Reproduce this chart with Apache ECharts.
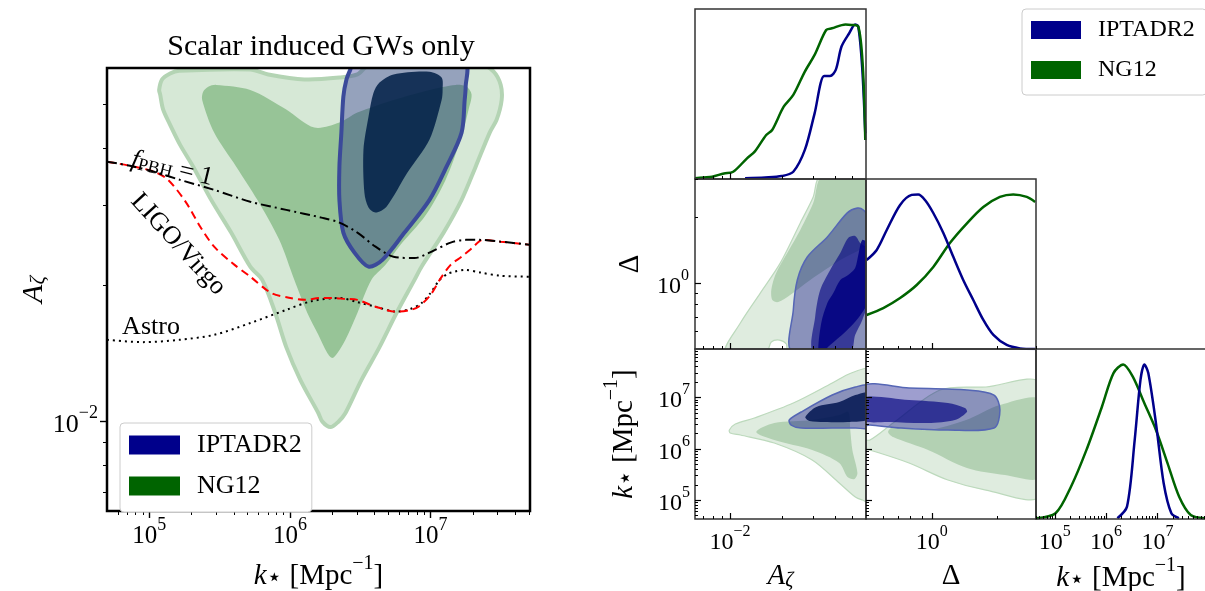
<!DOCTYPE html>
<html>
<head>
<meta charset="utf-8">
<title>Scalar induced GWs</title>
<script src="https://cdn.jsdelivr.net/npm/echarts@6.0.0/dist/echarts.min.js"></script>
<style>
html,body{margin:0;padding:0;background:#ffffff;}
#chart{width:1205px;height:591px;}
</style>
</head>
<body>
<div id="chart"></div>
<script>
// ================= DATA =================
// All positions are log10 of the physical quantity: k* [Mpc^-1], A_zeta, Delta.
const seriesNames = ['IPTADR2', 'NG12'];

// axis ranges (real values)
const kMainRange = [5e4, 5.1e7];
const aMainRange = [6.36e-3, 0.06];
const aCornerRange = [6.3e-3, 0.06];
const dCornerRange = [0.5, 3.0];
const kCornerRange = [4.3e4, 8.85e7];

// tick values (real values)
const kMajor = [1e5, 1e6, 1e7];
const kMinorMain = [6e4,7e4,8e4,9e4,2e5,3e5,4e5,5e5,6e5,7e5,8e5,9e5,2e6,3e6,4e6,5e6,6e6,7e6,8e6,9e6,2e7,3e7,4e7,5e7];
const kMinorCorner = [5e4,6e4,7e4,8e4,9e4,2e5,3e5,4e5,5e5,6e5,7e5,8e5,9e5,2e6,3e6,4e6,5e6,6e6,7e6,8e6,9e6,2e7,3e7,4e7,5e7,6e7,7e7,8e7];
const aMajor = [1e-2];
const aMinor = [7e-3,8e-3,9e-3,2e-2,3e-2,4e-2,5e-2];
const dMajor = [1];
const dMinor = [0.6,0.7,0.8,0.9,2,3];

// ---- left panel: [log10 k, log10 A] contour outlines ----
const ng12Outer = [[5.070,-1.270],[5.091,-1.247],[5.148,-1.234],[5.212,-1.228],[5.718,-1.225],[5.846,-1.236],[6.103,-1.247],[6.352,-1.243],[6.480,-1.236],[6.573,-1.214],[7.357,-1.214],[7.449,-1.230],[7.499,-1.259],[7.506,-1.292],[7.471,-1.335],[7.421,-1.364],[7.321,-1.439],[7.221,-1.512],[7.093,-1.584],[6.936,-1.659],[6.886,-1.688],[6.758,-1.761],[6.637,-1.836],[6.509,-1.908],[6.395,-1.981],[6.345,-2.000],[6.288,-2.012],[6.231,-2.000],[6.202,-1.981],[6.074,-1.908],[5.974,-1.836],[5.896,-1.761],[5.803,-1.688],[5.718,-1.659],[5.582,-1.584],[5.440,-1.512],[5.312,-1.439],[5.219,-1.391],[5.148,-1.347],[5.098,-1.313],[5.077,-1.280]];
const ng12Inner = [[5.376,-1.292],[5.383,-1.274],[5.419,-1.263],[5.476,-1.259],[5.718,-1.270],[5.974,-1.313],[6.174,-1.353],[6.352,-1.342],[6.480,-1.320],[6.737,-1.292],[6.993,-1.270],[7.178,-1.259],[7.257,-1.263],[7.292,-1.280],[7.271,-1.313],[7.214,-1.379],[7.107,-1.468],[6.965,-1.546],[6.787,-1.611],[6.680,-1.655],[6.580,-1.688],[6.480,-1.761],[6.395,-1.820],[6.338,-1.849],[6.302,-1.860],[6.266,-1.849],[6.202,-1.809],[6.124,-1.761],[6.031,-1.688],[5.924,-1.600],[5.768,-1.512],[5.618,-1.439],[5.461,-1.364]];
const iptaOuter = [[6.445,-1.212],[7.243,-1.212],[7.250,-1.263],[7.243,-1.292],[7.221,-1.364],[7.114,-1.439],[6.993,-1.512],[6.815,-1.584],[6.658,-1.644],[6.559,-1.659],[6.459,-1.628],[6.380,-1.584],[6.352,-1.512],[6.352,-1.439],[6.366,-1.364],[6.380,-1.285],[6.402,-1.247],[6.430,-1.225]];
const iptaInner = [[6.594,-1.277],[6.637,-1.254],[6.737,-1.236],[6.993,-1.230],[7.079,-1.243],[7.086,-1.270],[7.079,-1.292],[6.993,-1.379],[6.836,-1.452],[6.687,-1.527],[6.609,-1.540],[6.559,-1.529],[6.530,-1.497],[6.523,-1.402],[6.559,-1.329]];

// ---- left panel: bounds [log10 k, log10 A] ----
const ligoVirgo = [[4.699,-1.428],[4.863,-1.437],[5.034,-1.450],[5.134,-1.468],[5.262,-1.518],[5.362,-1.571],[5.461,-1.615],[5.590,-1.651],[5.718,-1.681],[5.868,-1.717],[6.003,-1.728],[6.103,-1.732],[6.217,-1.728],[6.302,-1.728],[6.395,-1.730],[6.480,-1.732],[6.609,-1.747],[6.758,-1.758],[6.858,-1.754],[6.915,-1.747],[7.000,-1.721],[7.065,-1.688],[7.143,-1.655],[7.221,-1.637],[7.299,-1.617],[7.371,-1.600],[7.499,-1.604],[7.713,-1.611]];
const fPBH = [[4.699,-1.428],[4.863,-1.437],[5.034,-1.450],[5.219,-1.468],[5.461,-1.490],[5.718,-1.516],[5.974,-1.534],[6.224,-1.551],[6.352,-1.562],[6.480,-1.584],[6.609,-1.615],[6.737,-1.637],[6.886,-1.640],[6.993,-1.628],[7.143,-1.606],[7.250,-1.600],[7.349,-1.600],[7.499,-1.604],[7.713,-1.611]];
const astro = [[4.699,-1.820],[4.956,-1.825],[5.212,-1.820],[5.461,-1.809],[5.718,-1.783],[5.974,-1.754],[6.153,-1.735],[6.352,-1.728],[6.480,-1.737],[6.609,-1.747],[6.758,-1.758],[6.858,-1.752],[6.936,-1.739],[7.000,-1.717],[7.065,-1.688],[7.122,-1.675],[7.171,-1.670],[7.243,-1.666],[7.357,-1.672],[7.499,-1.679],[7.713,-1.681]];
const annotations = [
  {text:'{i|f}{sr|PBH}{n| = 1}', pos:[5.169,-1.435], rot:-13.5},
  {text:'{n|LIGO/Virgo}', pos:[5.226,-1.604], rot:-47.5},
  {text:'{n|Astro}', pos:[5.012,-1.783], rot:0}
];

// ---- corner plot: 1D marginals [log10 value, normalised density] ----
const aIpta1D = [[-1.914,0.005],[-1.800,0.010],[-1.704,0.019],[-1.638,0.047],[-1.572,0.188],[-1.516,0.425],[-1.461,0.667],[-1.428,0.666],[-1.395,0.706],[-1.362,0.857],[-1.318,0.943],[-1.284,1.000],[-1.266,0.986],[-1.244,0.727],[-1.226,0.296]];
const aNg1D = [[-2.201,0.005],[-2.150,0.010],[-2.102,0.015],[-2.035,0.036],[-1.982,0.047],[-1.903,0.134],[-1.859,0.177],[-1.793,0.285],[-1.759,0.317],[-1.693,0.468],[-1.638,0.544],[-1.572,0.695],[-1.516,0.803],[-1.450,0.964],[-1.417,0.975],[-1.339,1.000],[-1.306,0.997],[-1.266,0.986],[-1.240,0.727],[-1.226,0.252]];
const dIpta1D = [[-0.298,0.576],[-0.252,0.641],[-0.206,0.770],[-0.145,0.932],[-0.092,0.997],[-0.062,1.000],[-0.031,0.964],[0.007,0.880],[0.053,0.751],[0.099,0.595],[0.144,0.447],[0.190,0.317],[0.236,0.188],[0.282,0.091],[0.343,0.026],[0.404,0.004],[0.473,0.000]];
const dNg1D = [[-0.298,0.220],[-0.222,0.265],[-0.145,0.330],[-0.069,0.414],[0.007,0.531],[0.083,0.686],[0.162,0.815],[0.236,0.919],[0.312,0.984],[0.373,1.000],[0.435,0.984],[0.473,0.951]];
const kIpta1D = [[6.220,0.005],[6.407,0.080],[6.557,0.511],[6.670,0.900],[6.746,1.000],[6.822,0.944],[6.972,0.619],[7.122,0.231],[7.272,0.037],[7.420,0.005]];
const kNg1D = [[4.639,0.005],[5.015,0.037],[5.315,0.209],[5.617,0.447],[5.920,0.728],[6.144,0.944],[6.333,1.000],[6.520,0.921],[6.746,0.749],[6.972,0.576],[7.198,0.360],[7.424,0.144],[7.649,0.026],[7.935,0.005]];

// ---- corner plot: 2D contours ----
// [log10 A, log10 Delta]
const adNgOuter = [[-2.027,-0.315],[-1.941,-0.182],[-1.827,-0.045],[-1.712,0.093],[-1.598,0.276],[-1.524,0.395],[-1.484,0.491],[-1.197,0.491],[-1.197,-0.315],[-1.667,-0.315],[-1.678,-0.278],[-1.718,-0.260],[-1.764,-0.269],[-1.793,-0.315]];
const adNgInner = [[-1.758,-0.077],[-1.764,-0.031],[-1.741,0.038],[-1.696,0.106],[-1.598,0.244],[-1.524,0.367],[-1.472,0.491],[-1.197,0.491],[-1.197,0.198],[-1.369,0.106],[-1.541,0.015],[-1.656,-0.054],[-1.724,-0.086]];
const adIptaOuter = [[-1.644,-0.315],[-1.638,-0.123],[-1.615,0.015],[-1.558,0.120],[-1.443,0.212],[-1.329,0.322],[-1.271,0.344],[-1.237,0.335],[-1.209,0.299],[-1.209,-0.315]];
const adIptaMid = [[-1.524,-0.315],[-1.513,-0.155],[-1.484,-0.031],[-1.427,0.061],[-1.369,0.138],[-1.324,0.207],[-1.284,0.216],[-1.255,0.184],[-1.209,0.152],[-1.209,-0.077],[-1.243,-0.168],[-1.284,-0.237],[-1.312,-0.315]];
const adIptaInner = [[-1.495,-0.315],[-1.478,-0.182],[-1.443,-0.091],[-1.409,-0.045],[-1.369,0.015],[-1.324,0.038],[-1.284,0.070],[-1.266,0.129],[-1.243,0.198],[-1.209,0.175],[-1.209,-0.077],[-1.266,-0.159],[-1.341,-0.223],[-1.427,-0.283],[-1.471,-0.315]];
// [log10 A, log10 k]
const akNgOuter = [[-2.004,6.368],[-1.970,6.485],[-1.861,6.602],[-1.638,6.894],[-1.415,7.284],[-1.306,7.479],[-1.197,7.537],[-1.197,4.964],[-1.243,5.003],[-1.283,5.062],[-1.375,5.335],[-1.530,5.783],[-1.747,6.114],[-1.941,6.270],[-1.999,6.309]];
const akNgInner = [[-1.850,6.329],[-1.747,6.504],[-1.530,6.563],[-1.375,6.660],[-1.323,6.719],[-1.312,6.368],[-1.300,5.978],[-1.271,5.530],[-1.288,5.413],[-1.328,5.452],[-1.375,5.725],[-1.530,5.978],[-1.747,6.173]];
const akIptaOuter = [[-1.661,6.563],[-1.593,6.719],[-1.415,7.050],[-1.283,7.206],[-1.197,7.226],[-1.197,6.426],[-1.283,6.407],[-1.415,6.407],[-1.593,6.407],[-1.650,6.465]];
const akIptaInner = [[-1.569,6.621],[-1.506,6.816],[-1.375,6.914],[-1.283,7.050],[-1.197,7.089],[-1.197,6.602],[-1.328,6.524],[-1.460,6.524],[-1.546,6.543]];
// [log10 Delta, log10 k]
const dkNgOuter = [[-0.319,6.173],[-0.283,6.173],[-0.177,6.504],[0.038,7.148],[0.248,7.206],[0.495,7.284],[0.495,5.081],[0.248,5.198],[0.074,5.393],[-0.104,5.725],[-0.283,5.978],[-0.319,6.017]];
const dkNgInner = [[-0.177,6.426],[-0.017,6.368],[0.157,6.563],[0.312,6.855],[0.495,6.953],[0.495,5.452],[0.335,5.491],[0.161,5.627],[-0.017,5.978],[-0.177,6.231],[-0.200,6.329]];
const dkIptaOuter = [[-0.319,7.226],[-0.104,7.187],[0.161,7.148],[0.285,7.050],[0.312,6.758],[0.285,6.407],[0.074,6.368],[-0.141,6.407],[-0.283,6.465],[-0.319,6.465]];
const dkIptaInner = [[-0.319,6.992],[-0.104,6.953],[0.074,6.894],[0.152,6.797],[0.161,6.719],[0.106,6.563],[-0.017,6.504],[-0.191,6.524],[-0.319,6.563]];

// ================= CHART =================
const FONT = "'Liberation Serif','DejaVu Serif',serif";
const L = Math.log10;
const C_IPTA = '#00008b', C_NG = '#006400';

function powLabel(v){ const e = Math.round(v); return '{b|10}{s|' + (e < 0 ? '\u2212' + (-e) : e) + '}'; }
function powRich(b, s){
  return {
    b:{fontFamily:FONT, fontSize:b, lineHeight:Math.round(b*1.3), verticalAlign:'bottom', color:'#000'},
    s:{fontFamily:FONT, fontSize:s, lineHeight:s, verticalAlign:'top', color:'#000'}
  };
}
function nameRich(size){
  const sub = Math.round(size*0.7);
  return {
    i:{fontFamily:FONT, fontStyle:'italic', fontSize:size, lineHeight:size+8, verticalAlign:'bottom', color:'#000'},
    n:{fontFamily:FONT, fontSize:size, lineHeight:size+8, verticalAlign:'bottom', color:'#000'},
    st:{fontFamily:"'DejaVu Sans',sans-serif", fontSize:Math.round(size*0.85), lineHeight:Math.round(size*0.75), verticalAlign:'bottom', color:'#000'},
    sb:{fontFamily:FONT, fontStyle:'italic', fontSize:sub, lineHeight:Math.round(sub*0.8), verticalAlign:'bottom', color:'#000'},
    sr:{fontFamily:FONT, fontSize:sub, lineHeight:Math.round(sub*0.8), verticalAlign:'bottom', color:'#000'},
    sp:{fontFamily:FONT, fontSize:Math.round(size*0.68), lineHeight:Math.round(size*0.68), verticalAlign:'top', color:'#000'}
  };
}
const K_NAME = '{i|k}{st|\u22c6}{n| [Mpc}{sp|\u22121}{n|]}';
const A_NAME = '{i|A}{sb|\u03b6}';
const D_NAME = '{n|\u0394}';

const xAxes = [], yAxes = [];
function addLogAxis(list, o){
  const base = {type:'value', gridIndex:o.grid, min:L(o.range[0]), max:L(o.range[1]), position:o.pos, z:10,
    axisLine:{show:false, onZero:false}, splitLine:{show:false}};
  const idx = list.length;
  list.push(Object.assign({}, base, {
    axisTick:{show:true, inside:o.inside, length:o.majLen, customValues:o.major.map(L), lineStyle:{color:'#000', width:o.tw||1.2}},
    axisLabel:{show:!!o.labels, customValues:o.major.map(L), formatter:powLabel, margin:o.margin||6, rich:powRich(o.fs||22, o.ss||15)},
    name:o.name||'', nameLocation:'middle', nameGap:o.nameGap||40,
    nameTextStyle:{rich:nameRich(o.nameSize||28), fontFamily:FONT, color:'#000'}
  }));
  list.push(Object.assign({}, base, {
    axisTick:{show:true, inside:o.inside, length:o.minLen, customValues:o.minor.map(L), lineStyle:{color:'#000', width:1}},
    axisLabel:{show:false}
  }));
  return idx;
}
function addDensAxis(list, grid){
  const idx = list.length;
  list.push({type:'value', gridIndex:grid, min:0, max:1.1, show:false, axisLine:{onZero:false}});
  return idx;
}

// grids
function gridBox(left, top, width, height, color, bw){
  return {left:left, top:top, width:width, height:height, show:true, borderColor:color, borderWidth:bw, z:10,
    backgroundColor:'transparent', containLabel:false, outerBoundsMode:'none'};
}
const grids = [
  gridBox(107, 68, 423, 443, '#000', 2.5),
  gridBox(695, 9, 171, 170, '#333', 1.5),
  gridBox(695, 179, 171, 170, '#333', 1.5),
  gridBox(866, 179, 170, 170, '#333', 1.5),
  gridBox(695, 349, 171, 170, '#333', 1.5),
  gridBox(866, 349, 170, 170, '#333', 1.5),
  gridBox(1036, 349, 170, 170, '#333', 1.5)
];

// main panel axes
const xMain = addLogAxis(xAxes, {grid:0, range:kMainRange, pos:'bottom', major:kMajor, minor:kMinorMain, labels:true, inside:false, majLen:7, minLen:4, fs:25, ss:18, margin:5, name:K_NAME, nameGap:42, nameSize:29, tw:1.4});
const yMain = addLogAxis(yAxes, {grid:0, range:aMainRange, pos:'left', major:aMajor, minor:aMinor, labels:true, inside:false, majLen:7, minLen:4, fs:26, ss:18, margin:9, name:A_NAME, nameGap:56, nameSize:30, tw:1.4});
// corner axes
const xA1 = addLogAxis(xAxes, {grid:1, range:aCornerRange, pos:'bottom', major:aMajor, minor:aMinor, labels:false, inside:true, majLen:6, minLen:3});
const yA1 = addDensAxis(yAxes, 1);
const xAD = addLogAxis(xAxes, {grid:2, range:aCornerRange, pos:'bottom', major:aMajor, minor:aMinor, labels:false, inside:true, majLen:6, minLen:3});
const yAD = addLogAxis(yAxes, {grid:2, range:dCornerRange, pos:'left', major:dMajor, minor:dMinor, labels:true, inside:true, majLen:6, minLen:3, fs:24, ss:16, margin:6, name:D_NAME, nameGap:50, nameSize:29});
const xD1 = addLogAxis(xAxes, {grid:3, range:dCornerRange, pos:'bottom', major:dMajor, minor:dMinor, labels:false, inside:true, majLen:6, minLen:3});
const yD1 = addDensAxis(yAxes, 3);
const xAK = addLogAxis(xAxes, {grid:4, range:aCornerRange, pos:'bottom', major:aMajor, minor:aMinor, labels:true, inside:true, majLen:6, minLen:3, fs:24, ss:16, margin:5, name:A_NAME, nameGap:35, nameSize:29});
const yAK = addLogAxis(yAxes, {grid:4, range:kCornerRange, pos:'left', major:kMajor, minor:kMinorCorner, labels:true, inside:true, majLen:6, minLen:3, fs:24, ss:16, margin:5, name:K_NAME, nameGap:56, nameSize:29});
const xDK = addLogAxis(xAxes, {grid:5, range:dCornerRange, pos:'bottom', major:dMajor, minor:dMinor, labels:true, inside:true, majLen:6, minLen:3, fs:24, ss:16, margin:5, name:D_NAME, nameGap:35, nameSize:29});
const yDK = addLogAxis(yAxes, {grid:5, range:kCornerRange, pos:'left', major:kMajor, minor:kMinorCorner, labels:false, inside:true, majLen:6, minLen:3});
const xK1 = addLogAxis(xAxes, {grid:6, range:kCornerRange, pos:'bottom', major:kMajor, minor:kMinorCorner, labels:true, inside:true, majLen:6, minLen:3, fs:24, ss:16, margin:5, name:K_NAME, nameGap:35, nameSize:29});
const yK1 = addDensAxis(yAxes, 6);

function poly(name, xi, yi, pts, fill, stroke, lw, z){
  return {
    type:'custom', name:name, xAxisIndex:xi, yAxisIndex:yi, clip:true, silent:true, z:z||2, animation:false,
    itemStyle:{color: name === seriesNames[0] ? C_IPTA : C_NG},
    data: pts,
    renderItem: function(params, api){
      if (params.dataIndex !== 0) return null;
      const points = pts.map(function(p){ return api.coord(p); });
      return {type:'polygon', shape:{points:points, smooth:0.3},
        style:{fill:fill, stroke: stroke || 'none', lineWidth: lw || 0}};
    }
  };
}
function curve(name, xi, yi, pts, color, width, type, z, smooth){
  return {type:'line', name:name, xAxisIndex:xi, yAxisIndex:yi, data:pts, symbol:'none', showSymbol:false,
    smooth: smooth == null ? 0.3 : smooth, silent:true, z:z||3, clip:true, animation:false,
    itemStyle:{color:color}, lineStyle:{color:color, width:width, type:type||'solid'}};
}

const annRich = nameRich(26);
const series = [
  // left panel contours
  poly('NG12', xMain, yMain, ng12Outer, '#d6e8d6', '#b4d4b4', 4),
  poly('NG12', xMain, yMain, ng12Inner, '#97c497', null, 0),
  poly('IPTADR2', xMain, yMain, iptaOuter, 'rgba(0,0,128,0.30)', '#3b4a9a', 4),
  poly('IPTADR2', xMain, yMain, iptaInner, 'rgba(0,30,70,0.85)', null, 0),
  // bounds
  curve('Astro', xMain, yMain, astro, '#000', 2, [2,4], 4),
  curve('LIGO/Virgo', xMain, yMain, ligoVirgo, '#ff0000', 2, [8,5], 4),
  curve('fPBH', xMain, yMain, fPBH, '#000', 2, [10,4,2,4], 5),
  {
    type:'custom', name:'labels', xAxisIndex:xMain, yAxisIndex:yMain, silent:true, z:6, animation:false,
    data: annotations.map(function(a){ return a.pos; }),
    renderItem: function(params, api){
      const a = annotations[params.dataIndex];
      const p = api.coord(a.pos);
      return {type:'text', x:p[0], y:p[1], rotation:a.rot*Math.PI/180,
        style:{text:a.text, rich:annRich, align:'center', verticalAlign:'middle', fill:'#000'}};
    }
  },
  // corner 1D
  curve('IPTADR2', xA1, yA1, aIpta1D, C_IPTA, 2.5, 'solid', 3),
  curve('NG12', xA1, yA1, aNg1D, C_NG, 2.5, 'solid', 3),
  curve('NG12', xD1, yD1, dNg1D, C_NG, 2.5, 'solid', 3),
  curve('IPTADR2', xD1, yD1, dIpta1D, C_IPTA, 2.5, 'solid', 3),
  curve('NG12', xK1, yK1, kNg1D, C_NG, 2.5, 'solid', 3),
  curve('IPTADR2', xK1, yK1, kIpta1D, C_IPTA, 2.5, 'solid', 3),
  // corner (A, Delta)
  poly('NG12', xAD, yAD, adNgOuter, '#dfecdf', '#bcd9bc', 1.2),
  poly('NG12', xAD, yAD, adNgInner, '#b3d1b3', null, 0),
  poly('IPTADR2', xAD, yAD, adIptaOuter, 'rgba(0,0,128,0.38)', '#5566b5', 1.5),
  poly('IPTADR2', xAD, yAD, adIptaMid, 'rgba(0,0,128,0.6)', null, 0),
  poly('IPTADR2', xAD, yAD, adIptaInner, 'rgba(0,0,128,0.85)', null, 0),
  // corner (A, k)
  poly('NG12', xAK, yAK, akNgOuter, '#dfecdf', '#bcd9bc', 1.2),
  poly('NG12', xAK, yAK, akNgInner, '#b3d1b3', null, 0),
  poly('IPTADR2', xAK, yAK, akIptaOuter, 'rgba(0,0,128,0.38)', '#5566b5', 1.5),
  poly('IPTADR2', xAK, yAK, akIptaInner, 'rgba(0,20,80,0.85)', null, 0),
  // corner (Delta, k)
  poly('NG12', xDK, yDK, dkNgOuter, '#dfecdf', '#bcd9bc', 1.2),
  poly('NG12', xDK, yDK, dkNgInner, '#b3d1b3', null, 0),
  poly('IPTADR2', xDK, yDK, dkIptaOuter, 'rgba(0,0,128,0.38)', '#5566b5', 1.5),
  poly('IPTADR2', xDK, yDK, dkIptaInner, 'rgba(0,0,128,0.65)', null, 0)
];

function legendData(){
  return [
    {name:seriesNames[0], icon:'rect', itemStyle:{color:C_IPTA, borderWidth:0}},
    {name:seriesNames[1], icon:'rect', itemStyle:{color:C_NG, borderWidth:0}}
  ];
}

const option = {
  animation:false,
  backgroundColor:'#ffffff',
  textStyle:{fontFamily:FONT},
  title:{text:'Scalar induced GWs only', left:316, top:27, textAlign:'center',
    textStyle:{fontFamily:FONT, fontSize:30, fontWeight:'normal', color:'#000'}},
  legend:[
    {data:legendData(), left:120, top:423, orient:'vertical', itemWidth:51, itemHeight:19, itemGap:15,
     padding:[9,10,13,9], backgroundColor:'#fff', borderColor:'#cccccc', borderWidth:1, borderRadius:4, z:20,
     selectedMode:false, textStyle:{fontFamily:FONT, fontSize:26, color:'#000', lineHeight:19, padding:[0,0,0,12]}},
    {data:legendData(), left:1022, top:9, orient:'vertical', itemWidth:50, itemHeight:18, itemGap:16,
     padding:[9,12,13,9], backgroundColor:'#fff', borderColor:'#cccccc', borderWidth:1, borderRadius:4, z:20,
     selectedMode:false, textStyle:{fontFamily:FONT, fontSize:24, color:'#000', lineHeight:18, padding:[0,0,0,12]}}
  ],
  grid:grids,
  xAxis:xAxes,
  yAxis:yAxes,
  series:series
};

const chart = echarts.init(document.getElementById('chart'), null, {renderer:'canvas'});
chart.setOption(option);
</script>
</body>
</html>
